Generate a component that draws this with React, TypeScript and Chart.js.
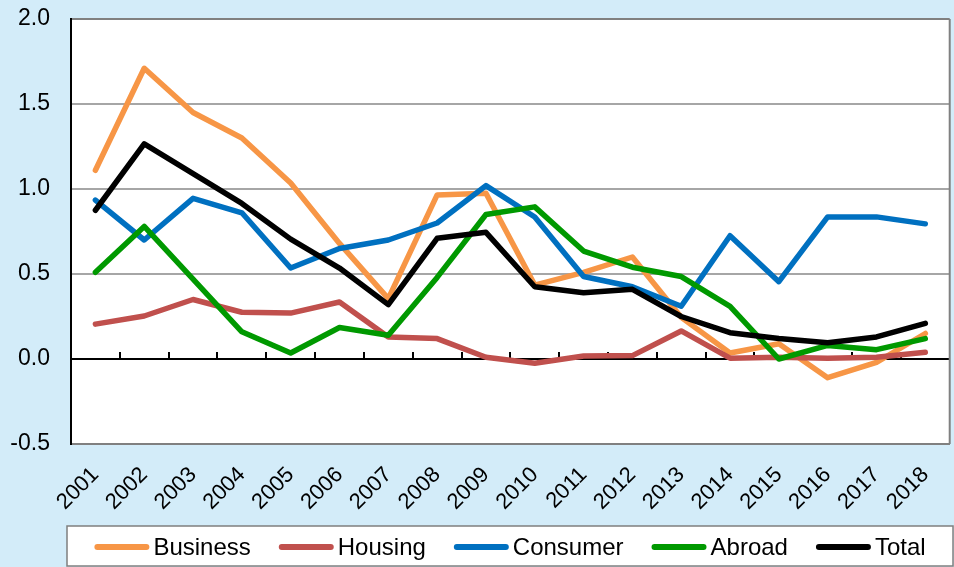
import React, { useEffect, useRef } from 'react';
import { Chart, registerables } from 'chart.js';

Chart.register(...registerables);

const years = ['2001', '2002', '2003', '2004', '2005', '2006', '2007', '2008', '2009', '2010', '2011', '2012', '2013', '2014', '2015', '2016', '2017', '2018'];

const business = [1.11, 1.71, 1.45, 1.3, 1.035, 0.68, 0.355, 0.965, 0.975, 0.435, 0.51, 0.6, 0.245, 0.035, 0.09, -0.11, -0.02, 0.15];
const housing = [0.205, 0.253, 0.35, 0.275, 0.27, 0.335, 0.13, 0.12, 0.01, -0.025, 0.018, 0.02, 0.165, 0.005, 0.01, 0.005, 0.01, 0.04];
const consumer = [0.935, 0.7, 0.945, 0.86, 0.535, 0.65, 0.7, 0.8, 1.02, 0.835, 0.485, 0.425, 0.31, 0.725, 0.455, 0.836, 0.836, 0.795];
const abroad = [0.51, 0.78, 0.47, 0.16, 0.035, 0.185, 0.14, 0.48, 0.85, 0.895, 0.635, 0.54, 0.485, 0.31, 0.0, 0.08, 0.055, 0.12];
const total = [0.875, 1.265, 1.09, 0.915, 0.705, 0.535, 0.32, 0.71, 0.745, 0.425, 0.39, 0.41, 0.25, 0.155, 0.12, 0.095, 0.13, 0.21];

const seriesNames = ['Business', 'Housing', 'Consumer', 'Abroad', 'Total'];
const seriesColors = ['#F79646', '#C0504D', '#0070C0', '#009900', '#000000'];
const yTicks = [-0.5, 0, 0.5, 1.0, 1.5, 2.0];

const FONT = '"Liberation Sans", Arial, sans-serif';

const plotPlugin = {
  id: 'plotDecor',
  beforeDraw(chart: any) {
    const { ctx, chartArea: a } = chart;
    ctx.save();
    ctx.fillStyle = '#ffffff';
    ctx.fillRect(a.left, a.top, a.right - a.left, a.bottom - a.top);
    ctx.restore();
  },
  beforeDatasetsDraw(chart: any) {
    const { ctx, chartArea: a, scales } = chart;
    const y0 = scales.y.getPixelForValue(0);
    ctx.save();
    ctx.strokeStyle = '#000000';
    ctx.lineWidth = 2;
    ctx.beginPath();
    ctx.moveTo(a.left, y0);
    ctx.lineTo(a.right, y0);
    ctx.stroke();
    const n = years.length;
    for (let i = 1; i < n; i++) {
      const x = Math.round((scales.x.getPixelForValue(i - 1) + scales.x.getPixelForValue(i)) / 2);
      ctx.beginPath();
      ctx.moveTo(x, y0);
      ctx.lineTo(x, y0 - 7);
      ctx.stroke();
    }
    ctx.restore();
  },
  afterDraw(chart: any) {
    const { ctx, chartArea: a } = chart;
    ctx.save();
    ctx.strokeStyle = '#808080';
    ctx.lineWidth = 2;
    ctx.beginPath();
    ctx.moveTo(a.right, a.top);
    ctx.lineTo(a.right, a.bottom);
    ctx.stroke();

    // legend box
    const bx = 67, by = 526, bw = 886, bh = 40;
    ctx.fillStyle = '#ffffff';
    ctx.fillRect(bx, by, bw, bh);
    ctx.strokeStyle = '#7f7f7f';
    ctx.lineWidth = 1.5;
    ctx.strokeRect(bx, by, bw, bh);

    ctx.font = '24px ' + FONT;
    const sample = 55, gap = 4, spacing = 28;
    const widths = seriesNames.map((s) => ctx.measureText(s).width);
    const totalW = widths.reduce((p, w) => p + sample + gap + w, 0) + spacing * (seriesNames.length - 1);
    let x = bx + bw / 2 - totalW / 2;
    const cy = by + bh / 2 + 1;
    ctx.textBaseline = 'middle';
    ctx.textAlign = 'left';
    seriesNames.forEach((name, i) => {
      ctx.strokeStyle = seriesColors[i];
      ctx.lineWidth = 6;
      ctx.lineCap = 'round';
      ctx.beginPath();
      ctx.moveTo(x + 3, cy);
      ctx.lineTo(x + sample - 3, cy);
      ctx.stroke();
      ctx.fillStyle = '#000000';
      ctx.fillText(name, x + sample + gap, cy + 1);
      x += sample + gap + widths[i] + spacing;
    });
    ctx.restore();
  },
};

export default function App() {
  const ref = useRef<HTMLCanvasElement | null>(null);
  useEffect(() => {
    if (!ref.current) return;
    const seriesData = [business, housing, consumer, abroad, total];
    const chart = new Chart(ref.current, {
      type: 'line',
      data: {
        labels: years,
        datasets: seriesData.map((d, i) => ({
          label: seriesNames[i],
          data: d,
          borderColor: seriesColors[i],
          backgroundColor: seriesColors[i],
          borderWidth: 5.5,
          pointRadius: 0,
          tension: 0,
          fill: false,
          borderJoinStyle: 'round' as const,
          borderCapStyle: 'round' as const,
          order: seriesData.length - i,
        })),
      },
      options: {
        responsive: true,
        maintainAspectRatio: false,
        animation: false,
        layout: { padding: { top: 19, right: 1, bottom: 48, left: 0 } },
        plugins: {
          legend: { display: false },
          tooltip: { enabled: false },
        },
        scales: {
          x: {
            type: 'category',
            offset: true,
            grid: { display: false },
            border: { display: true, color: '#808080', width: 2 },
            ticks: {
              autoSkip: false,
              minRotation: 45,
              maxRotation: 45,
              padding: 10,
              color: '#000000',
              font: { family: FONT, size: 22 },
            },
            afterFit(scale: any) {
              scale.height = 75;
            },
          },
          y: {
            min: -0.5,
            max: 2.0,
            afterBuildTicks(scale: any) {
              scale.ticks = yTicks.map((v) => ({ value: v }));
            },
            ticks: {
              padding: 3,
              color: '#000000',
              font: { family: FONT, size: 23 },
              callback: (v: any) => Number(v).toFixed(1),
            },
            grid: {
              drawTicks: true,
              tickLength: 18,
              tickColor: 'rgba(0,0,0,0)',
              lineWidth: 2,
              color: (c: any) => {
                const v = c.tick ? c.tick.value : null;
                if (v === 0) return 'rgba(0,0,0,0)';
                if (v === 2) return '#808080';
                return '#a6a6a6';
              },
            },
            border: { display: true, color: '#000000', width: 2 },
            afterFit(scale: any) {
              scale.width = 71;
            },
          },
        },
      },
      plugins: [plotPlugin],
    });
    return () => chart.destroy();
  }, []);

  return (
    <div style={{ position: 'fixed', left: 0, top: 0, width: 954, height: 567, background: '#d3ecf9' }}>
      <canvas ref={ref} />
    </div>
  );
}
